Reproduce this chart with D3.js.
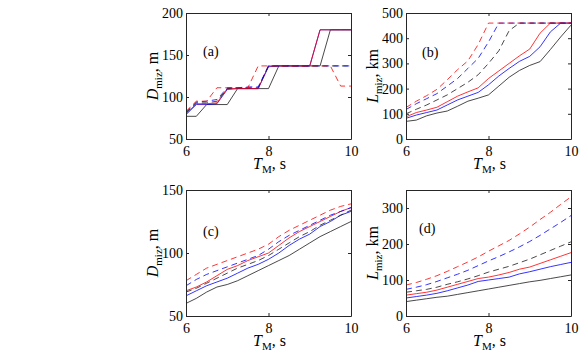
<!DOCTYPE html>
<html>
<head>
<meta charset="utf-8">
<script src="https://cdn.jsdelivr.net/npm/d3@7"></script>
<style>
    body { margin: 0; background: #fff; }
    svg text { font-family: "Liberation Serif", "Times New Roman", serif; fill: #000; }
</style>
</head>
<body>
<svg id="chart" width="583" height="354"></svg>
<script>
// wave period grid, s
var T_M = [6, 6.25, 6.5, 6.75, 7, 7.25, 7.5, 7.75, 8, 8.25, 8.5, 8.75, 9, 9.25, 9.5, 9.75, 10];
var xTicks = [6, 8, 10];

// (a) D_miz, m
var aRed       = [80, 92, 92, 93, 110, 110, 110, 110, 137, 137, 137, 137, 137, 180, 180, 180, 180];
var aBlue      = [79, 91, 91, 92, 109, 110, 110, 110, 136, 137, 137, 137, 137, 180, 180, 180, 180];
var aBlack     = [77, 77, 91, 91, 91, 110, 110, 110, 110, 137, 137, 137, 137, 137, 180, 180, 180];
var aRedDash   = [83, 95, 95, 111, 111, 111, 111, 137, 137, 137, 137, 137, 137, 137, 137, 113, 113];
var aBlueDash  = [82, 94, 95, 97, 111, 111, 112, 112, 137, 137, 137, 137, 137, 137, 137, 137, 137];
var aBlackDash = [81, 93, 93, 95, 110, 111, 111, 111, 137, 137, 137, 137, 137, 137, 137, 137, 137];
var aTicks = [50, 100, 150, 200];

// (b) L_miz, km
var bRed       = [88, 105, 115, 126, 148, 170, 187, 203, 240, 270, 300, 330, 357, 420, 460, 460, 460];
var bBlue      = [82, 95, 105, 115, 135, 155, 170, 185, 215, 250, 280, 308, 328, 366, 425, 460, 460];
var bBlack     = [70, 75, 92, 103, 111, 130, 150, 162, 175, 210, 245, 272, 292, 307, 355, 405, 452];
var bRedDash   = [125, 150, 172, 197, 235, 275, 310, 375, 460, 460, 460, 460, 460, 460, 460, 460, 460];
var bBlueDash  = [117, 140, 160, 180, 210, 240, 280, 320, 385, 460, 460, 460, 460, 460, 460, 460, 460];
var bBlackDash = [100, 118, 135, 155, 175, 200, 225, 255, 300, 350, 430, 460, 460, 460, 460, 460, 460];
var bTicks = [0, 100, 200, 300, 400, 500];

// (c) D_miz, m
var cRed       = [70, 73, 77, 82, 87, 90, 94, 97, 100, 106, 112, 117, 121, 125, 129, 133, 136];
var cBlue      = [66, 70, 74, 77, 80, 84, 88, 91, 95, 100, 106, 111, 115, 121, 125, 130, 133];
var cBlack     = [60, 64, 69, 73, 75, 78, 82, 86, 90, 94, 98, 103, 108, 113, 117, 121, 125];
var cRedDash   = [78, 83, 88, 91, 94, 97, 100, 103, 107, 113, 118, 122, 126, 130, 134, 137, 139];
var cBlueDash  = [74, 79, 83, 86, 89, 92, 95, 98, 103, 109, 114, 118, 122, 126, 130, 133, 136];
var cBlackDash = [69, 72, 76, 80, 84, 88, 91, 94, 98, 103, 108, 113, 117, 122, 126, 130, 134];
var cTicks = [50, 100, 150];

// (d) L_miz, km
var dRed       = [58, 62, 66, 72, 80, 88, 96, 104, 108, 114, 121, 130, 136, 146, 156, 166, 176];
var dBlue      = [50, 54, 58, 63, 70, 78, 86, 96, 100, 104, 108, 117, 123, 130, 137, 143, 149];
var dBlack     = [40, 44, 48, 52, 55, 60, 65, 70, 75, 80, 85, 90, 95, 99, 104, 109, 114];
var dRedDash   = [86, 93, 102, 112, 124, 137, 150, 164, 180, 195, 210, 228, 247, 268, 288, 310, 331];
var dBlueDash  = [74, 80, 87, 96, 106, 116, 127, 140, 153, 165, 178, 192, 207, 224, 242, 260, 279];
var dBlackDash = [66, 70, 74, 80, 88, 95, 103, 112, 122, 130, 138, 148, 158, 170, 182, 194, 206];
var dTicks = [0, 100, 200, 300];

var svg = d3.select('#chart');
var serif = '"Liberation Serif", "Times New Roman", serif';

var panels = [
    { tag: '(a)', left: 186, top: 13, yDomain: [50, 200], yTicks: aTicks, sym: 'D', unit: ', m',
      series: [aBlack, aBlue, aRed, aBlackDash, aBlueDash, aRedDash], tagPos: [203, 56] },
    { tag: '(b)', left: 406, top: 13, yDomain: [0, 500], yTicks: bTicks, sym: 'L', unit: ', km',
      series: [bBlack, bBlue, bRed, bBlackDash, bBlueDash, bRedDash], tagPos: [422, 57] },
    { tag: '(c)', left: 186, top: 190, yDomain: [50, 150], yTicks: cTicks, sym: 'D', unit: ', m',
      series: [cBlack, cBlue, cRed, cBlackDash, cBlueDash, cRedDash], tagPos: [203, 236] },
    { tag: '(d)', left: 406, top: 190, yDomain: [0, 350], yTicks: dTicks, sym: 'L', unit: ', km',
      series: [dBlack, dBlue, dRed, dBlackDash, dBlueDash, dRedDash], tagPos: [419, 233] }
];

var lineStyles = [
    { color: '#1a1a1a', dash: null },
    { color: '#0000ff', dash: null },
    { color: '#ff0000', dash: null },
    { color: '#1a1a1a', dash: '6,4' },
    { color: '#0000ff', dash: '6,4' },
    { color: '#ff0000', dash: '6,4' }
];

panels.forEach(p => drawPanel(p));

function drawPanel(p) {
    var w = 165, h = 126;
    var x = d3.scaleLinear().domain([6, 10]).range([p.left, p.left + w]);
    var y = d3.scaleLinear().domain(p.yDomain).range([p.top + h, p.top]);

    var g = svg.append('g');

    // lines
    var line = d3.line()
        .x((d, i) => x(T_M[i]))
        .y(d => y(d));

    p.series.forEach(function (s, i) {
        var st = lineStyles[i];
        g.append('path')
            .datum(s)
            .attr('d', line)
            .attr('fill', 'none')
            .attr('stroke', st.color)
            .attr('stroke-width', 0.8)
            .attr('stroke-dasharray', st.dash);
    });

    // axes, ticks pointing inwards on all four sides
    var fmt = d3.format('d');
    var bottom = d3.axisBottom(x).tickValues(xTicks).tickFormat(fmt).tickSizeInner(-3).tickSizeOuter(0).tickPadding(7);
    var top = d3.axisTop(x).tickValues(xTicks).tickSizeInner(-3).tickSizeOuter(0).tickFormat('');
    var left = d3.axisLeft(y).tickValues(p.yTicks).tickFormat(fmt).tickSizeInner(-3).tickSizeOuter(0).tickPadding(3);
    var right = d3.axisRight(y).tickValues(p.yTicks).tickSizeInner(-3).tickSizeOuter(0).tickFormat('');

    var axes = [
        [bottom, 'translate(0,' + (p.top + h) + ')'],
        [top, 'translate(0,' + p.top + ')'],
        [left, 'translate(' + p.left + ',0)'],
        [right, 'translate(' + (p.left + w) + ',0)']
    ];
    axes.forEach(function (a) {
        var ag = g.append('g').attr('transform', a[1]).call(a[0])
            .attr('font-family', serif)
            .attr('font-size', 14);
        ag.selectAll('path, line').attr('stroke', '#262626');
        ag.selectAll('text')
            .attr('fill', '#000')
            .style('font-family', serif)
            .style('font-size', '14px');
    });

    // panel tag
    g.append('text')
        .attr('x', p.tagPos[0])
        .attr('y', p.tagPos[1])
        .style('font-size', '14px')
        .text(p.tag);

    // x label
    var xl = g.append('text')
        .attr('x', x(8) + 1)
        .attr('y', p.top + h + 30)
        .attr('text-anchor', 'middle')
        .style('font-size', '16px');
    xl.append('tspan').style('font-style', 'italic').text('T');
    xl.append('tspan').attr('dy', 4).style('font-size', '11px').text('M');
    xl.append('tspan').attr('dy', -4).text(', s');

    // y label
    var yl = g.append('text')
        .attr('transform', 'translate(' + (p.left - 28) + ',' + (p.top + h / 2) + ') rotate(-90)')
        .attr('text-anchor', 'middle')
        .style('font-size', '16px');
    yl.append('tspan').style('font-style', 'italic').text(p.sym);
    yl.append('tspan').attr('dy', 4).style('font-size', '11px').text('miz');
    yl.append('tspan').attr('dy', -4).text(p.unit);
}
</script>
</body>
</html>
